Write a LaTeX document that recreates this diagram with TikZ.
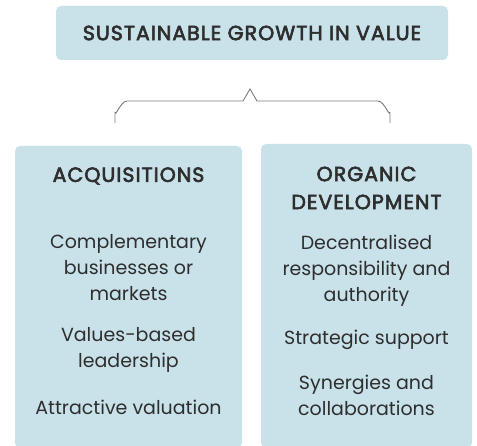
\documentclass[tikz,border=0pt]{standalone}
\usepackage{fontspec}
\setmainfont{Poppins}
\newfontfamily\headfont{Poppins}[FakeBold=3,LetterSpace=5]
\usetikzlibrary{positioning}
\definecolor{boxblue}{HTML}{C9E2EA}
\definecolor{inkgrey}{HTML}{2E2E2E}
\definecolor{bracegrey}{HTML}{7A7A7A}

\begin{document}
\begin{tikzpicture}[x=1pt,y=-1pt,
    panel/.style={fill=boxblue,rounded corners=5pt,inner sep=0pt},
    head/.style={text=inkgrey,font=\headfont\fontsize{20.5}{28}\selectfont,align=center},
    item/.style={text=inkgrey,font=\fontsize{19}{26}\selectfont,align=center}]
    \useasboundingbox (0,0) rectangle (477,446);
    % top box
    \node[panel,minimum width=392pt,minimum height=54pt] (growth) at (252,33) {};
    \node[head] (growthtxt) at (growth.center) {SUSTAINABLE GROWTH IN VALUE};
    % brace under the top box
    \draw[bracegrey,line width=0.9pt]
        (115,123) -- (115,112) to[out=-90,in=180] (127,101) -- (243,101)
        -- (250,89) -- (257,101) -- (378,101) to[out=0,in=-90] (390,112)
        -- (390,123);
    % left column
    \node[panel,minimum width=227pt,minimum height=302pt] (acq) at (128.5,297) {};
    \node[head] (acqhead) at (128.5,176) {ACQUISITIONS};
    \node[item] (acqa) at (128.5,268) {Complementary\\businesses or\\markets};
    \node[item] (acqb) at (128.5,350) {Values-based\\leadership};
    \node[item] (acqc) at (128.5,407) {Attractive valuation};
    % right column
    \node[panel,minimum width=211pt,minimum height=304pt] (org) at (366.5,296) {};
    \node[head] (orghead) at (366.5,188) {ORGANIC\\DEVELOPMENT};
    \node[item] (orga) at (366.5,271) {Decentralised\\responsibility and\\authority};
    \node[item] (orgb) at (366.5,340) {Strategic support};
    \node[item] (orgc) at (366.5,395) {Synergies and\\collaborations};
\end{tikzpicture}
\end{document}
